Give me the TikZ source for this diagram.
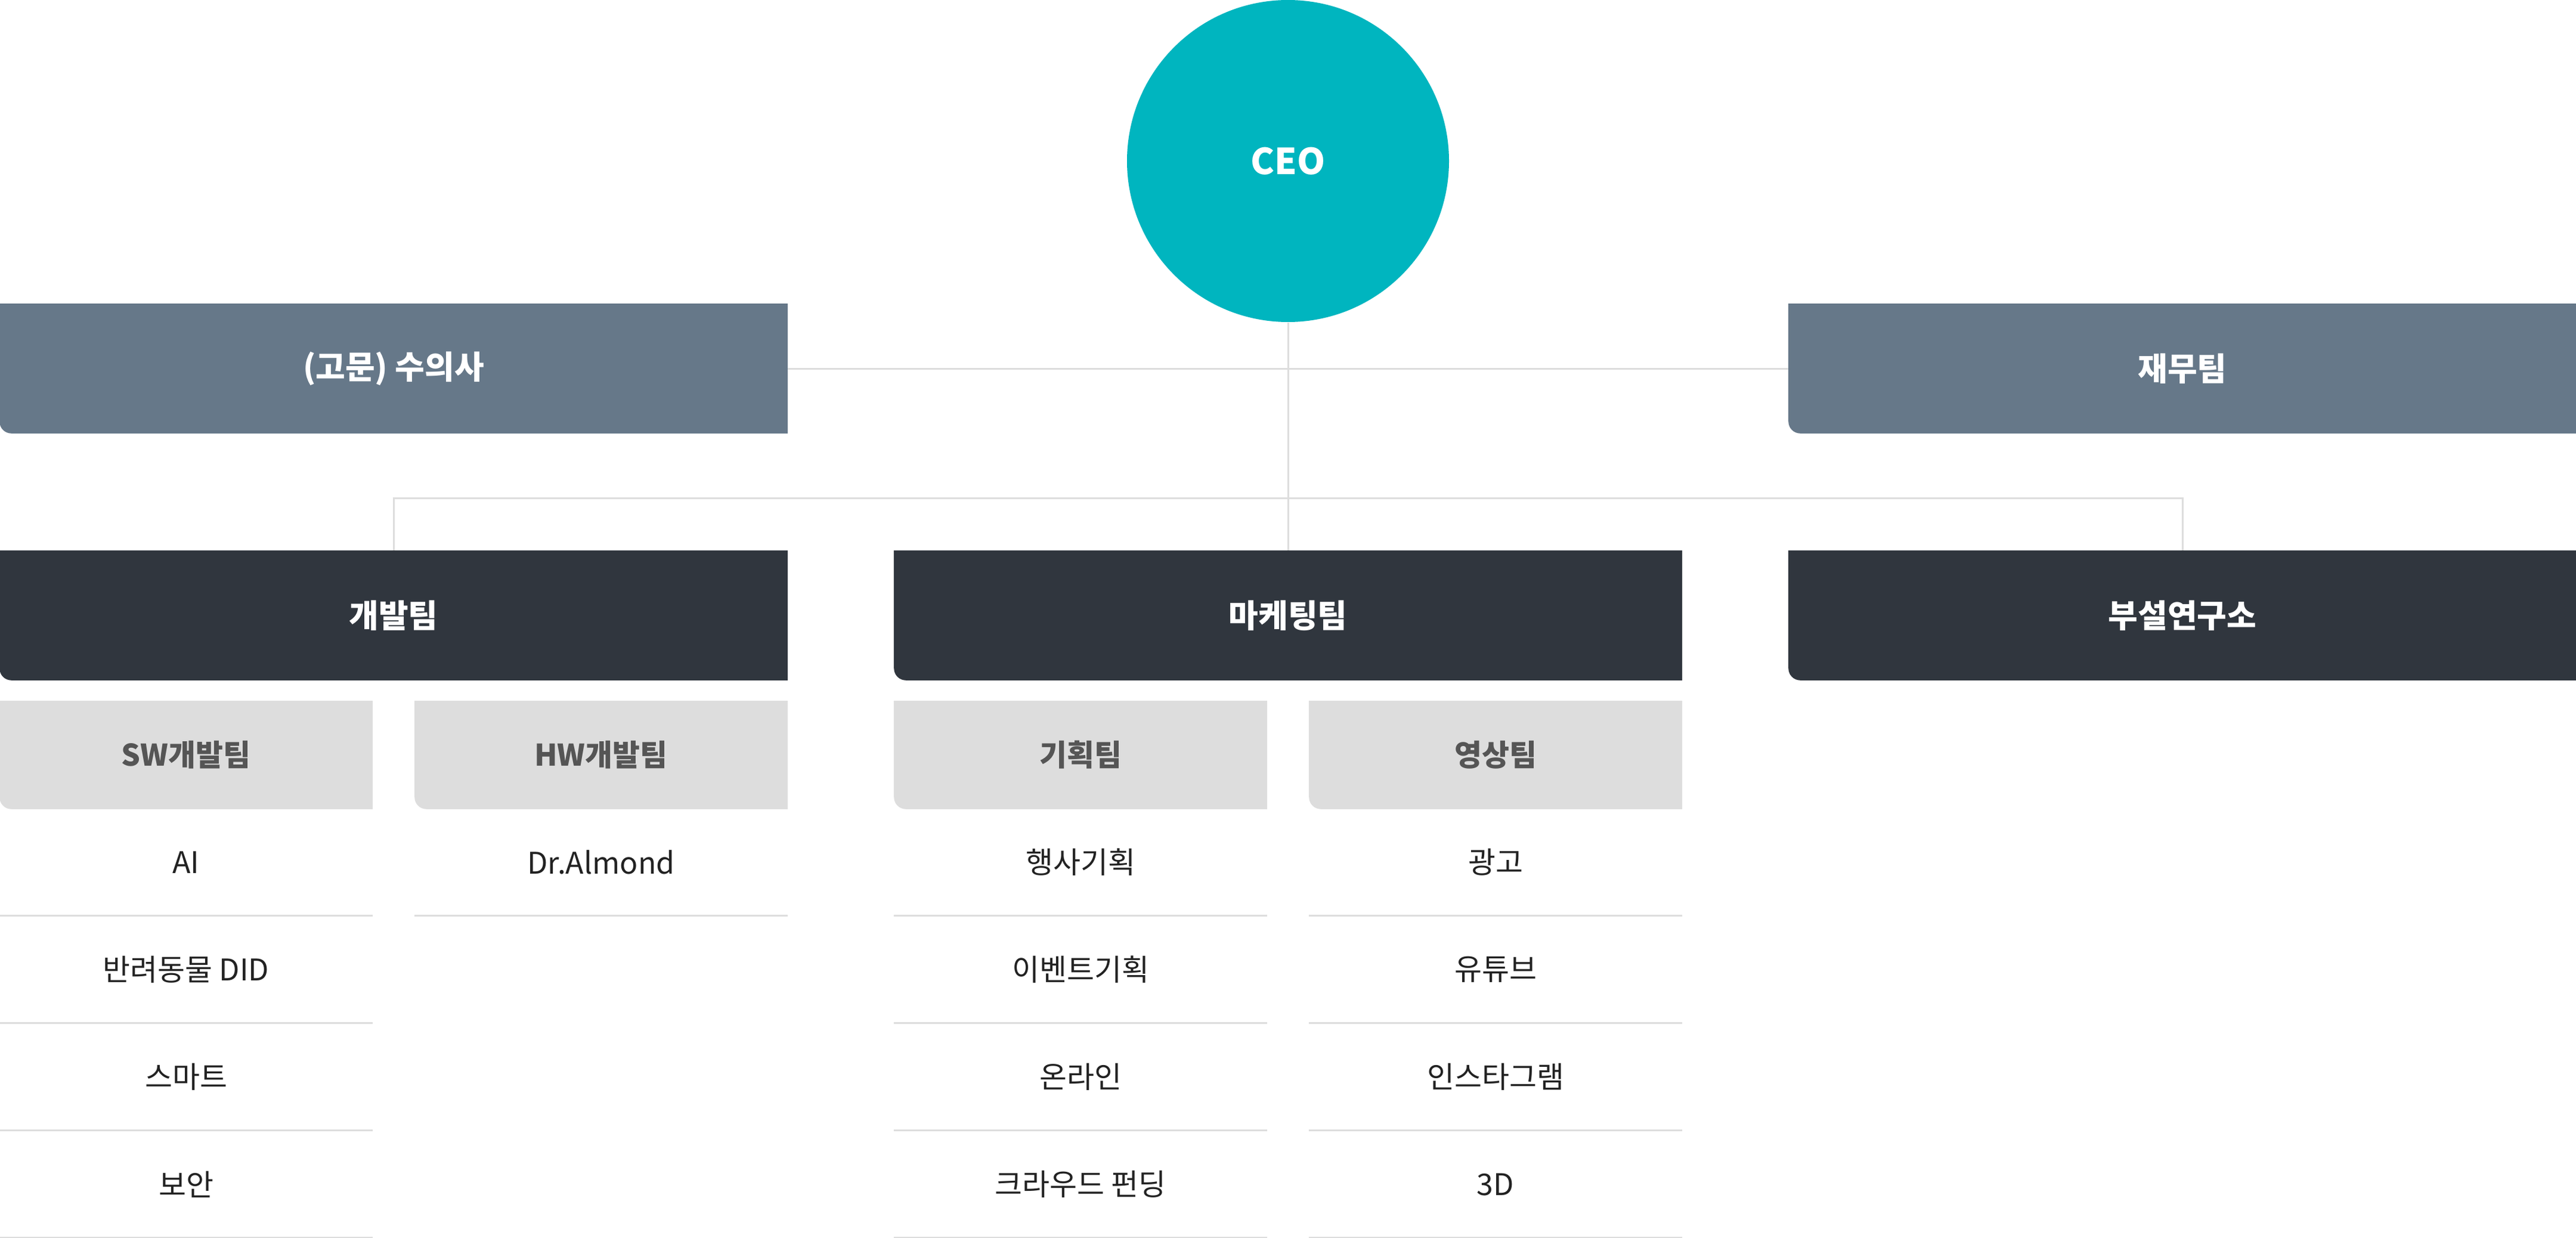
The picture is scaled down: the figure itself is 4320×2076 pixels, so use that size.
\documentclass[tikz,border=0pt]{standalone}
\usepackage{fontspec}
\setmainfont{Noto Sans CJK KR}
\usepackage{xcolor}
\usetikzlibrary{positioning, backgrounds}
\definecolor{ceocol}{HTML}{00B5BF}
\definecolor{slatecol}{HTML}{667889}
\definecolor{darkcol}{HTML}{30363E}
\definecolor{subcol}{HTML}{DDDDDD}
\definecolor{subtext}{HTML}{555555}
\definecolor{itemtext}{HTML}{222222}
\definecolor{linecol}{HTML}{DDDDDD}

\begin{document}
\begin{tikzpicture}[
			x=0.25pt,
			y=-0.25pt,
			node distance=45pt,
			on grid,
			ceo/.style={
				circle,
				fill=ceocol,
				minimum size=135pt,
				inner sep=0pt,
				text=white,
				font=\bfseries\fontsize{15}{18}\selectfont
			},
			unit/.style={
				rectangle,
				minimum width=330pt,
				minimum height=54pt,
				inner sep=0pt,
				text=white,
				font=\bfseries\fontsize{13.5}{16}\selectfont
			},
			subunit/.style={
				rectangle,
				minimum width=156pt,
				minimum height=45pt,
				inner sep=0pt,
				text=subtext,
				font=\bfseries\fontsize{12.5}{15}\selectfont
			},
			item/.style={
				rectangle,
				minimum width=156pt,
				minimum height=45pt,
				inner sep=0pt,
				text=itemtext,
				font=\fontsize{12.5}{15}\selectfont
			},
			link/.style={
				draw=linecol,
				line width=0.75pt
			}
			]
			\useasboundingbox (0,0) rectangle (4320,2076);
			
			% Top
			\node[ceo] (ceo) at (2160,270) {CEO};
			\node[unit] (adv) at (660,618) {(고문) 수의사};
			\node[unit] (fin) at (3660,618) {재무팀};
			
			% Teams
			\node[unit] (dev) at (660,1032) {개발팀};
			\node[unit] (mkt) at (2160,1032) {마케팅팀};
			\node[unit] (lab) at (3660,1032) {부설연구소};
			
			% Sub teams
			\node[subunit] (sw) at (312,1266) {SW개발팀};
			\node[subunit] (hw) at (1008,1266) {HW개발팀};
			\node[subunit] (plan) at (1812,1266) {기획팀};
			\node[subunit] (video) at (2508,1266) {영상팀};
			
			% Items
			\node[item, below=of sw] (sw1) {AI};
			\node[item, below=of sw1] (sw2) {반려동물 DID};
			\node[item, below=of sw2] (sw3) {스마트};
			\node[item, below=of sw3] (sw4) {보안};
			\node[item, below=of hw] (hw1) {Dr.Almond};
			\node[item, below=of plan] (plan1) {행사기획};
			\node[item, below=of plan1] (plan2) {이벤트기획};
			\node[item, below=of plan2] (plan3) {온라인};
			\node[item, below=of plan3] (plan4) {크라우드 펀딩};
			\node[item, below=of video] (video1) {광고};
			\node[item, below=of video1] (video2) {유튜브};
			\node[item, below=of video2] (video3) {인스타그램};
			\node[item, below=of video3] (video4) {3D};
			
			% Boxes, rounded at the lower left only
			\begin{scope}[on background layer]
				\foreach \n/\c in {adv/slatecol, fin/slatecol, dev/darkcol, mkt/darkcol, lab/darkcol,
					sw/subcol, hw/subcol, plan/subcol, video/subcol}
				\fill[\c] (\n.north west) -- (\n.north east) -- (\n.south east)
				-- ([xshift=5pt]\n.south west) to[out=180, in=270] ([yshift=5pt]\n.south west) -- cycle;
			\end{scope}
			
			% Separators
			\foreach \n in {sw1, sw2, sw3, sw4, hw1, plan1, plan2, plan3, plan4, video1, video2, video3, video4}
			\draw[link] ([yshift=0.4pt]\n.south west) -- ([yshift=0.4pt]\n.south east);
			
			% Connectors
			\coordinate (split) at (2160,835);
			\draw[link] (ceo.south) -- (mkt.north);
			\draw[link] (adv.east) -- (fin.west);
			\draw[link] (dev.north) |- (split) -| (lab.north);
		\end{tikzpicture}
\end{document}
